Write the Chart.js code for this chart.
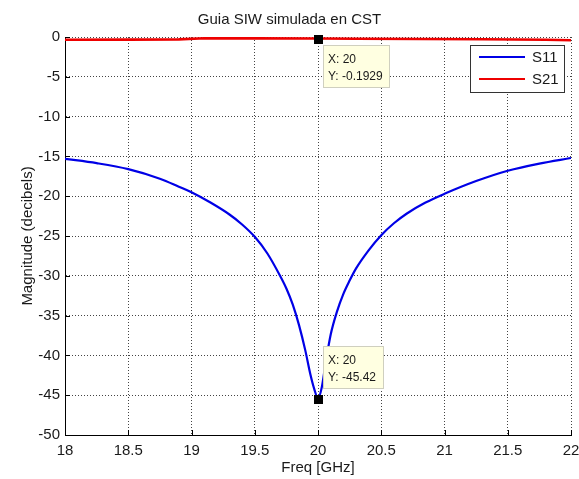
<!DOCTYPE html>
<html lang="en">
<head>
    <meta charset="UTF-8">
    <title>Guia SIW simulada en CST</title>
    <script src="https://cdn.jsdelivr.net/npm/chart.js@4.4.1/dist/chart.umd.min.js"></script>
    <style>
        html, body {
            margin: 0;
            padding: 0;
            background: #fff;
        }
        #wrap {
            width: 579px;
            height: 479px;
        }
    </style>
</head>
<body>
    <div id="wrap"><canvas id="sChart" width="579" height="479"></canvas></div>

    <script>
        // S11 (GHz, dB)
        const freqS11 = [18, 18.25, 18.5, 18.75, 18.9, 19, 19.15, 19.3, 19.4, 19.5, 19.6, 19.7, 19.75, 19.8, 19.85, 19.9, 19.94, 19.97, 20,
                         20.03, 20.06, 20.1, 20.15, 20.2, 20.25, 20.3, 20.4, 20.5, 20.6, 20.7, 20.85, 21, 21.25, 21.5, 21.75, 22];
        const s11 = [-15.3, -15.85, -16.6, -17.8, -18.8, -19.5, -20.8, -22.3, -23.55, -25.1, -27.2, -30.0, -31.6, -33.6, -36.2, -39.4, -42.4, -44.2, -45.42,
                     -44.0, -41.0, -37.4, -34.5, -32.3, -30.6, -29.1, -26.8, -24.9, -23.4, -22.2, -20.8, -19.7, -18.1, -16.8, -15.9, -15.2];

        // S21 stays right at the top edge
        const freqS21 = [18, 18.5, 18.9, 19.1, 19.5, 20, 20.3, 20.8, 21.3, 21.8, 22];
        const s21 = [-0.35, -0.33, -0.3, -0.15, -0.17, -0.1929, -0.22, -0.25, -0.28, -0.35, -0.4];

        // data tips shown on the figure
        const tipFreq = [20, 20];
        const tipVal = [-0.1929, -45.42];

        const freqTicks = [18, 18.5, 19, 19.5, 20, 20.5, 21, 21.5, 22];
        const magTicks = [-50, -45, -40, -35, -30, -25, -20, -15, -10, -5, 0];

        const FONT = '"Liberation Sans", Arial, sans-serif';
        const TEXT = '#1a1a1a';

        // MATLAB style ticks pointing into the axes
        const inwardTicks = {
            id: 'inwardTicks',
            afterDatasetsDraw(chart) {
                const { ctx, chartArea, scales: { x, y } } = chart;
                ctx.save();
                ctx.strokeStyle = '#000';
                ctx.lineWidth = 1;
                ctx.beginPath();
                x.ticks.forEach(t => {
                    const px = Math.round(x.getPixelForValue(t.value)) + 0.5;
                    ctx.moveTo(px, chartArea.bottom);
                    ctx.lineTo(px, chartArea.bottom - 5);
                });
                y.ticks.forEach(t => {
                    const py = Math.round(y.getPixelForValue(t.value)) + 0.5;
                    ctx.moveTo(chartArea.left, py);
                    ctx.lineTo(chartArea.left + 5, py);
                });
                ctx.stroke();
                ctx.restore();
            }
        };

        // boxed legend in the upper right corner
        const boxLegend = {
            id: 'boxLegend',
            afterDatasetsDraw(chart) {
                const { ctx, chartArea } = chart;
                const w = 95, h = 48;
                const bx = chartArea.right - 6 - w, by = chartArea.top + 8;
                ctx.save();
                ctx.fillStyle = '#fff';
                ctx.fillRect(bx, by, w, h);
                ctx.strokeStyle = '#333';
                ctx.lineWidth = 1;
                ctx.strokeRect(bx + 0.5, by + 0.5, w - 1, h - 1);
                ctx.font = '15px ' + FONT;
                ctx.textBaseline = 'middle';
                ctx.fillStyle = TEXT;
                chart.data.datasets.forEach((ds, i) => {
                    const ly = by + 12 + i * 22;
                    ctx.strokeStyle = ds.borderColor;
                    ctx.lineWidth = 2;
                    ctx.beginPath();
                    ctx.moveTo(bx + 9, ly);
                    ctx.lineTo(bx + 55, ly);
                    ctx.stroke();
                    ctx.fillText(ds.label, bx + 62, ly + 1);
                });
                ctx.restore();
            }
        };

        // data cursor markers with their yellow info boxes
        const dataTips = {
            id: 'dataTips',
            afterDraw(chart) {
                const { ctx, chartArea, scales: { x, y } } = chart;
                const mid = (chartArea.top + chartArea.bottom) / 2;
                ctx.save();
                ctx.font = '12px ' + FONT;
                tipFreq.forEach((f, i) => {
                    const px = x.getPixelForValue(f);
                    const py = y.getPixelForValue(tipVal[i]);
                    const lines = ['X: ' + f, 'Y: ' + tipVal[i]];
                    const w = Math.ceil(Math.max(...lines.map(t => ctx.measureText(t).width))) + 12;
                    const h = 43;
                    const bx = Math.round(px) + 5;
                    const by = py < mid ? Math.round(py) + 6 : Math.round(py) - 10 - h;
                    ctx.fillStyle = '#ffffe1';
                    ctx.fillRect(bx, by, w, h);
                    ctx.strokeStyle = '#cfcfbf';
                    ctx.lineWidth = 1;
                    ctx.strokeRect(bx + 0.5, by + 0.5, w - 1, h - 1);
                    ctx.fillStyle = TEXT;
                    ctx.textBaseline = 'middle';
                    lines.forEach((t, j) => ctx.fillText(t, bx + 5, by + 15 + j * 17));
                    ctx.fillStyle = '#000';
                    ctx.fillRect(Math.round(px) - 4, Math.round(py) - 4, 9, 9);
                });
                ctx.restore();
            }
        };

        const ctx = document.getElementById('sChart').getContext('2d');
        new Chart(ctx, {
            type: 'line',
            data: {
                datasets: [{
                    label: 'S11',
                    data: freqS11.map((f, i) => ({ x: f, y: s11[i] })),
                    borderColor: '#0000e6',
                    borderWidth: 2.2,
                    pointRadius: 0,
                    cubicInterpolationMode: 'monotone'
                }, {
                    label: 'S21',
                    data: freqS21.map((f, i) => ({ x: f, y: s21[i] })),
                    borderColor: '#ee0000',
                    borderWidth: 2.6,
                    pointRadius: 0,
                    clip: false
                }]
            },
            options: {
                responsive: false,
                animation: false,
                layout: { padding: 0 },
                plugins: {
                    legend: { display: false },
                    tooltip: { enabled: false },
                    title: {
                        display: true,
                        text: 'Guia SIW simulada en CST',
                        color: TEXT,
                        font: { family: FONT, size: 15, weight: 'normal' },
                        padding: { top: 11, bottom: 8 }
                    }
                },
                scales: {
                    x: {
                        type: 'linear',
                        min: 18,
                        max: 22,
                        afterBuildTicks: s => { s.ticks = freqTicks.map(v => ({ value: v })); },
                        afterFit: s => {
                            s.height = 44;
                            s.paddingRight = 8;
                        },
                        ticks: {
                            color: TEXT,
                            font: { family: FONT, size: 15 },
                            padding: 7,
                            maxRotation: 0,
                            autoSkip: false,
                            callback: v => String(v)
                        },
                        grid: { color: '#444', drawTicks: false },
                        border: { color: '#000', width: 1, dash: [1, 2] },
                        title: {
                            display: true,
                            text: 'Freq [GHz]',
                            color: TEXT,
                            font: { family: FONT, size: 15 },
                            padding: { top: 0, bottom: 2 }
                        }
                    },
                    y: {
                        type: 'linear',
                        min: -50,
                        max: 0,
                        afterBuildTicks: s => { s.ticks = magTicks.map(v => ({ value: v })); },
                        afterFit: s => { s.width = 65; },
                        ticks: {
                            color: TEXT,
                            font: { family: FONT, size: 15 },
                            padding: 5,
                            autoSkip: false,
                            callback: v => String(v)
                        },
                        grid: { color: '#444', drawTicks: false },
                        border: { color: '#000', width: 1, dash: [1, 2] },
                        title: {
                            display: true,
                            text: 'Magnitude (decibels)',
                            color: TEXT,
                            font: { family: FONT, size: 15 },
                            padding: { top: 19, bottom: 0 }
                        }
                    }
                }
            },
            plugins: [inwardTicks, boxLegend, dataTips]
        });
    </script>
</body>
</html>
